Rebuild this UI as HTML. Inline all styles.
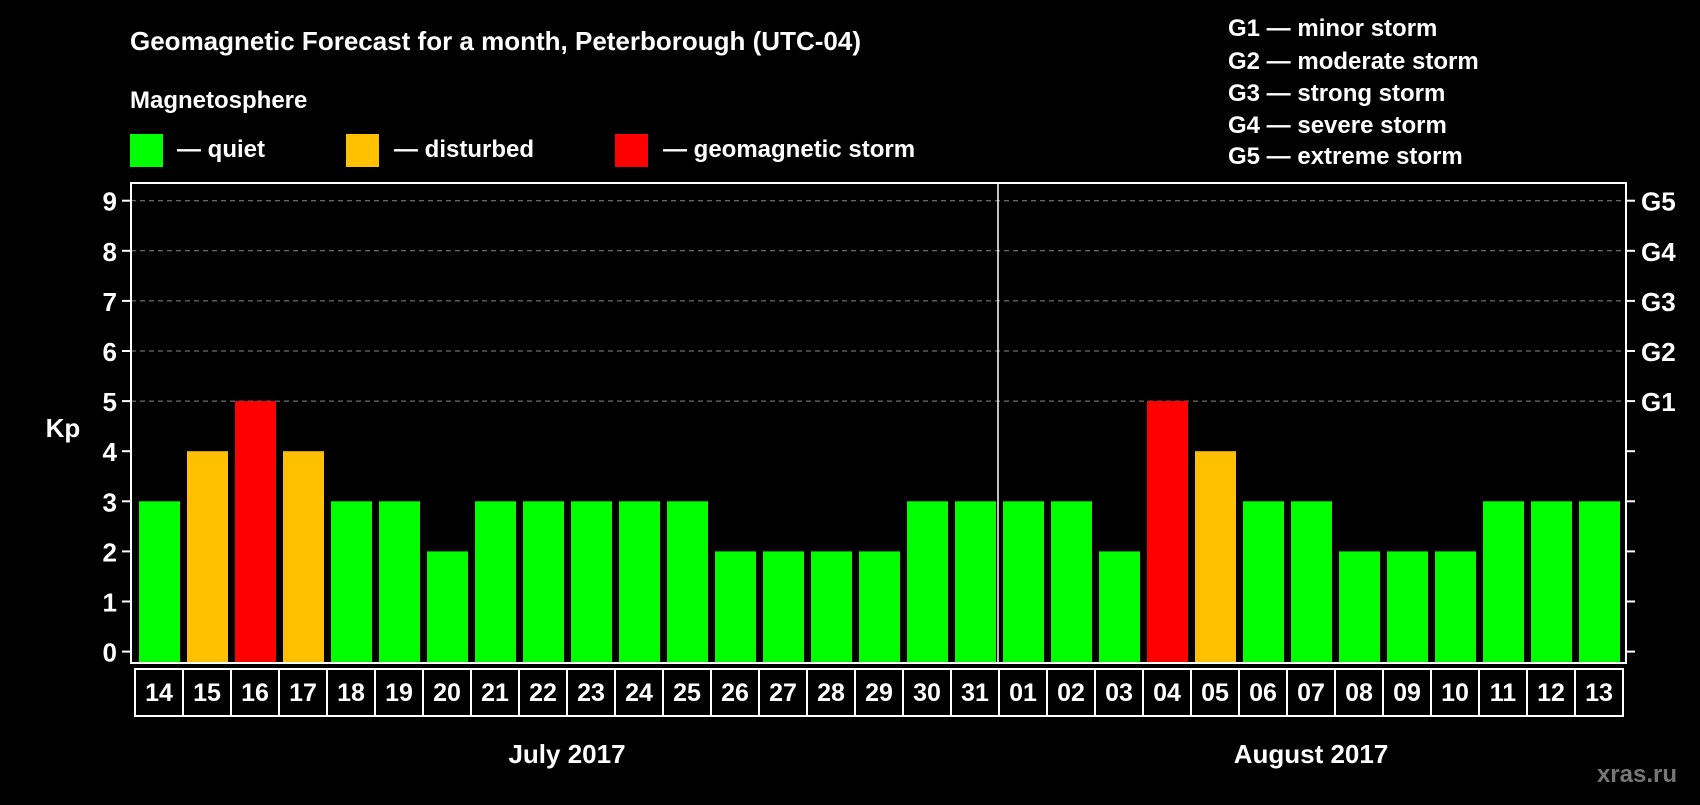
<!DOCTYPE html>
<html><head><meta charset="utf-8"><style>
body{margin:0;background:#000;width:1700px;height:800px;overflow:hidden}
svg text{font-family:"Liberation Sans",Arial,sans-serif;font-weight:bold;fill:#fff}
</style></head><body>
<svg id="c" width="1700" height="800">
<text x="130" y="50" font-size="26">Geomagnetic Forecast for a month, Peterborough (UTC-04)</text>
<text x="130" y="108" font-size="24">Magnetosphere</text>
<rect x="130" y="134" width="33" height="33" fill="#00ff00"/>
<text x="177" y="157" font-size="24">— quiet</text>
<rect x="346" y="134" width="33" height="33" fill="#ffc000"/>
<text x="394" y="157" font-size="24">— disturbed</text>
<rect x="615" y="134" width="33" height="33" fill="#ff0000"/>
<text x="663" y="157" font-size="24">— geomagnetic storm</text>
<g font-size="24">
<text x="1228" y="36">G1 — minor storm</text>
<text x="1228" y="69">G2 — moderate storm</text>
<text x="1228" y="101">G3 — strong storm</text>
<text x="1228" y="133">G4 — severe storm</text>
<text x="1228" y="164">G5 — extreme storm</text>
</g>
<text x="63" y="437" font-size="26" text-anchor="middle">Kp</text>
<text x="1677" y="782" font-size="24" text-anchor="end" style="fill:#777">xras.ru</text>
<g id="plot"></g>
</svg>
<script>
const days=["14","15","16","17","18","19","20","21","22","23","24","25","26","27","28","29","30","31","01","02","03","04","05","06","07","08","09","10","11","12","13"];
const kp=[3,4,5,4,3,3,2,3,3,3,3,3,2,2,2,2,3,3,3,3,2,5,4,3,3,2,2,2,3,3,3];
const yTicks=[0,1,2,3,4,5,6,7,8,9];
const gLabels=["G1","G2","G3","G4","G5"];
const gLevels=[5,6,7,8,9];
const months=["July 2017","August 2017"];
const monthStart=[0,18];
const monthLen=[18,13];

const NS="http://www.w3.org/2000/svg";
const g=document.getElementById('plot');
const L=131,R=1626,T=183,B=663;
const x0=135,pitch=(1623-135)/days.length;
const y=v=>651.6-v*50.1;
function mk(t,a,p){const e=document.createElementNS(NS,t);for(const k in a)e.setAttribute(k,a[k]);(p||g).appendChild(e);return e;}
yTicks.forEach(v=>{
 if(v>=5){const l=mk('line',{x1:L,x2:R,y1:y(v),y2:y(v),stroke:'#888','stroke-dasharray':'5,4','stroke-width':1});
 
 }
 mk('line',{x1:L-9,x2:L,y1:y(v),y2:y(v),stroke:'#fff','stroke-width':2});
 mk('line',{x1:R,x2:R+9,y1:y(v),y2:y(v),stroke:'#fff','stroke-width':2});
 const t=mk('text',{x:117,y:y(v)+10,'font-size':26,'text-anchor':'end'});t.textContent=v;
 
 
});
gLevels.forEach((v,i)=>{const t=mk('text',{x:1641,y:y(v)+10,'font-size':26});t.textContent=gLabels[i];
 
 });
kp.forEach((v,i)=>{
 const c=v>=5?'#ff0000':v>=4?'#ffc000':'#00ff00';
 const r=mk('rect',{x:x0+i*pitch+4,y:y(v),width:pitch-7,height:B-y(v),fill:c});
 
 
 const cell=mk('rect',{x:x0+i*pitch,y:669,width:pitch,height:47,fill:'none',stroke:'#fff','stroke-width':2});
 
 
 const t=mk('text',{x:x0+(i+.5)*pitch,y:701,'font-size':25,'text-anchor':'middle'});t.textContent=days[i];
 
 
});
mk('rect',{x:L,y:T,width:R-L,height:B-T,fill:'none',stroke:'#fff','stroke-width':2});
const dx=x0+monthStart[1]*pitch-1;
mk('line',{x1:dx,x2:dx,y1:T,y2:B,stroke:'#fff','stroke-width':1.5});
months.forEach((m,i)=>{const t=mk('text',{x:x0+(monthStart[i]+monthLen[i]/2)*pitch,y:763,'font-size':26,'text-anchor':'middle'});t.textContent=m;
 
 });
</script>
</body></html>
